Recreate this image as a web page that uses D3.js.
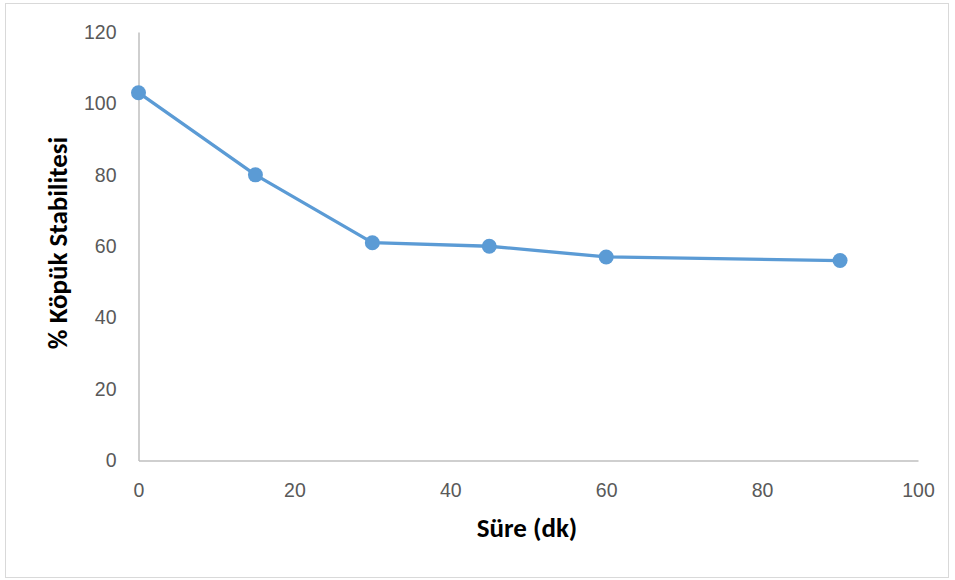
<!DOCTYPE html>
<html>
<head>
<meta charset="utf-8">
<script src="https://cdn.jsdelivr.net/npm/d3@7"></script>
<style>
  html, body { margin: 0; padding: 0; background: #fff; }
  svg { display: block; font-family: Carlito, Calibri, "Open Sans", "Noto Sans", sans-serif; }
</style>
</head>
<body>
<svg id="chart" width="955" height="580"></svg>
<script>
// Foam stability (%) over time (minutes)
const times = [0, 15, 30, 45, 60, 90];
const stability = [103, 80, 61, 60, 57, 56];
const xTicks = [0, 20, 40, 60, 80, 100];
const yTicks = [0, 20, 40, 60, 80, 100, 120];

const svg = d3.select("#chart");

// outer frame
svg.append("rect")
  .attr("x", 5.5).attr("y", 3.5)
  .attr("width", 943).attr("height", 574)
  .attr("fill", "#fff").attr("stroke", "#d9d9d9").attr("stroke-width", 1);

const x = d3.scaleLinear().domain([0, 100]).range([138.5, 918]);
const y = d3.scaleLinear().domain([0, 120]).range([460.5, 32]);

const axisColor = "#bfbfbf";
const tickColor = "#595959";

// y axis
const gy = svg.append("g").attr("transform", `translate(${x(0)},0)`)
  .call(d3.axisLeft(y).tickValues(yTicks).tickSize(0).tickPadding(22));
gy.select(".domain").attr("stroke", axisColor).attr("stroke-width", 1.5);
gy.selectAll("text").attr("fill", tickColor).attr("font-size", 19.5).attr("font-family", null);

// x axis
const gx = svg.append("g").attr("transform", `translate(0,${y(0)})`)
  .call(d3.axisBottom(x).tickValues(xTicks).tickSize(0).tickPadding(23));
gx.select(".domain").attr("stroke", axisColor).attr("stroke-width", 1.5);
gx.selectAll("text").attr("fill", tickColor).attr("font-size", 19.5).attr("font-family", null);

// axis titles
svg.append("text")
  .attr("x", 527).attr("y", 537)
  .attr("text-anchor", "middle")
  .attr("font-size", 27).attr("font-weight", "bold").attr("fill", "#000")
  .text("Süre (dk)");

svg.append("text")
  .attr("transform", "translate(67,243) rotate(-90)")
  .attr("text-anchor", "middle")
  .attr("font-size", 27).attr("font-weight", "bold").attr("fill", "#000")
  .text("% Köpük Stabilitesi");

const data = times.map((t, i) => ({ t, v: stability[i] }));
const lineColor = "#5b9bd5";

svg.append("path")
  .datum(data)
  .attr("fill", "none")
  .attr("stroke", lineColor)
  .attr("stroke-width", 3.3)
  .attr("stroke-linejoin", "round")
  .attr("d", d3.line().x(d => x(d.t)).y(d => y(d.v)));

svg.selectAll("circle.pt")
  .data(data)
  .join("circle")
  .attr("class", "pt")
  .attr("cx", d => x(d.t))
  .attr("cy", d => y(d.v))
  .attr("r", 7.5)
  .attr("fill", lineColor);
</script>
</body>
</html>
